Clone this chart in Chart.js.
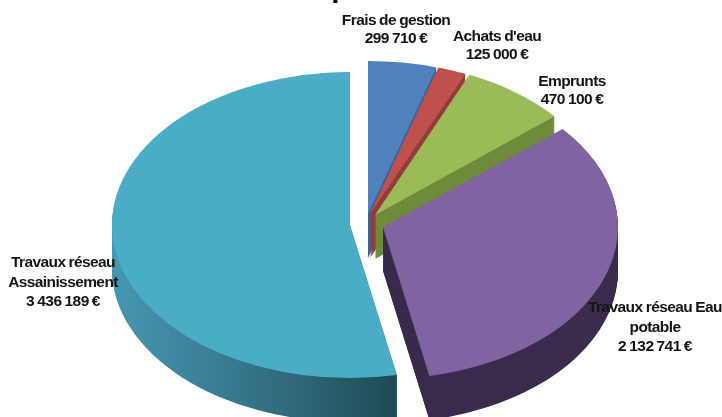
<!DOCTYPE html>
<html>
<head>
<meta charset="utf-8">
<style>html,body{margin:0;padding:0;background:#fff;overflow:hidden}canvas{display:block}</style>
<script src="https://cdn.jsdelivr.net/npm/chart.js@4"></script>
</head>
<body>
<canvas id="c" width="722" height="417"></canvas>
<script>
const categories = ["Frais de gestion", "Achats d'eau", "Emprunts", "Travaux réseau Eau potable", "Travaux réseau Assainissement"];
const values = [299710, 125000, 470100, 2132741, 3436189];
const valueLabels = ["299 710 €", "125 000 €", "470 100 €", "2 132 741 €", "3 436 189 €"];
const titleText = "Dépenses";

const topColors = ["#4f81bd", "#c0504d", "#9bbb59", "#8064a2", "#4bacc6"];
const sideColors = ["#3b6597", "#923c3a", "#6f8b3c", "#3a2c4d", null];
const centerX = [368, 370, 375, 383, 350];
const centerY = [214, 214, 215, 227, 225];
const radiusX = [238, 238, 235, 235, 238];
const radiusY = [153, 153, 153, 152, 153];
const depth = 44;
const labelLines = [["Frais de gestion"], ["Achats d'eau"], ["Emprunts"], ["Travaux réseau Eau", "potable"], ["Travaux réseau", "Assainissement"]];
const labelX = [396, 497, 572, 655, 63];
const labelY = [21, 37, 82, 308, 263];
const lineStep = [18, 18, 18, 19.5, 19.5];

const pie3d = {
  id: 'pie3d',
  beforeDatasetDraw(chart, args) {
    const ctx = chart.ctx;
    const arcs = chart.getDatasetMeta(args.index).data;
    arcs.forEach((arc, i) => {
      const k = radiusX[i] / arc.outerRadius;
      const sy = radiusY[i] / arc.outerRadius;
      const place = (dy) => {
        ctx.setTransform(k, 0, 0, sy, centerX[i] - arc.x * k, centerY[i] + dy - arc.y * sy);
      };
      let side = sideColors[i];
      if (!side) {
        const x0 = arc.x + (112 - centerX[i]) / k;
        const x1 = arc.x + (396 - centerX[i]) / k;
        side = ctx.createLinearGradient(x0, 0, x1, 0);
        side.addColorStop(0, '#4797b1');
        side.addColorStop(0.35, '#3a7f95');
        side.addColorStop(0.75, '#2a5f6e');
        side.addColorStop(1, '#1e4955');
      }
      const own = arc.options;
      arc.options = Object.assign({}, own, { backgroundColor: side, borderWidth: 0 });
      for (let d = depth; d >= 1; d--) {
        place(d);
        arc.draw(ctx);
      }
      arc.options = own;
      place(0);
      arc.draw(ctx);
    });
    ctx.setTransform(1, 0, 0, 1, 0, 0);
    return false;
  },
  afterDraw(chart) {
    const ctx = chart.ctx;
    ctx.save();
    ctx.setTransform(1, 0, 0, 1, 0, 0);
    ctx.fillStyle = '#141414';
    ctx.textAlign = 'center';
    ctx.textBaseline = 'middle';
    ctx.font = 'bold 15.5px "Liberation Sans"';
    ctx.letterSpacing = '-0.6px';
    ctx.wordSpacing = '-0.5px';
    categories.forEach((_, i) => {
      const lines = labelLines[i].concat(valueLabels[i]);
      lines.forEach((t, j) => ctx.fillText(t, labelX[i], labelY[i] + j * lineStep[i]));
    });
    ctx.letterSpacing = '0px';
    ctx.wordSpacing = '0px';
    ctx.textAlign = 'left';
    ctx.textBaseline = 'alphabetic';
    ctx.font = 'bold 30px "Liberation Sans"';
    ctx.fillStyle = '#000';
    ctx.fillText(titleText, 293, -3);
    ctx.restore();
  }
};

new Chart(document.getElementById('c'), {
  type: 'pie',
  data: {
    labels: categories,
    datasets: [{ data: values, backgroundColor: topColors, borderWidth: 0 }]
  },
  options: {
    responsive: false,
    animation: false,
    plugins: { legend: { display: false }, tooltip: { enabled: false } }
  },
  plugins: [pie3d]
});
</script>
</body>
</html>
